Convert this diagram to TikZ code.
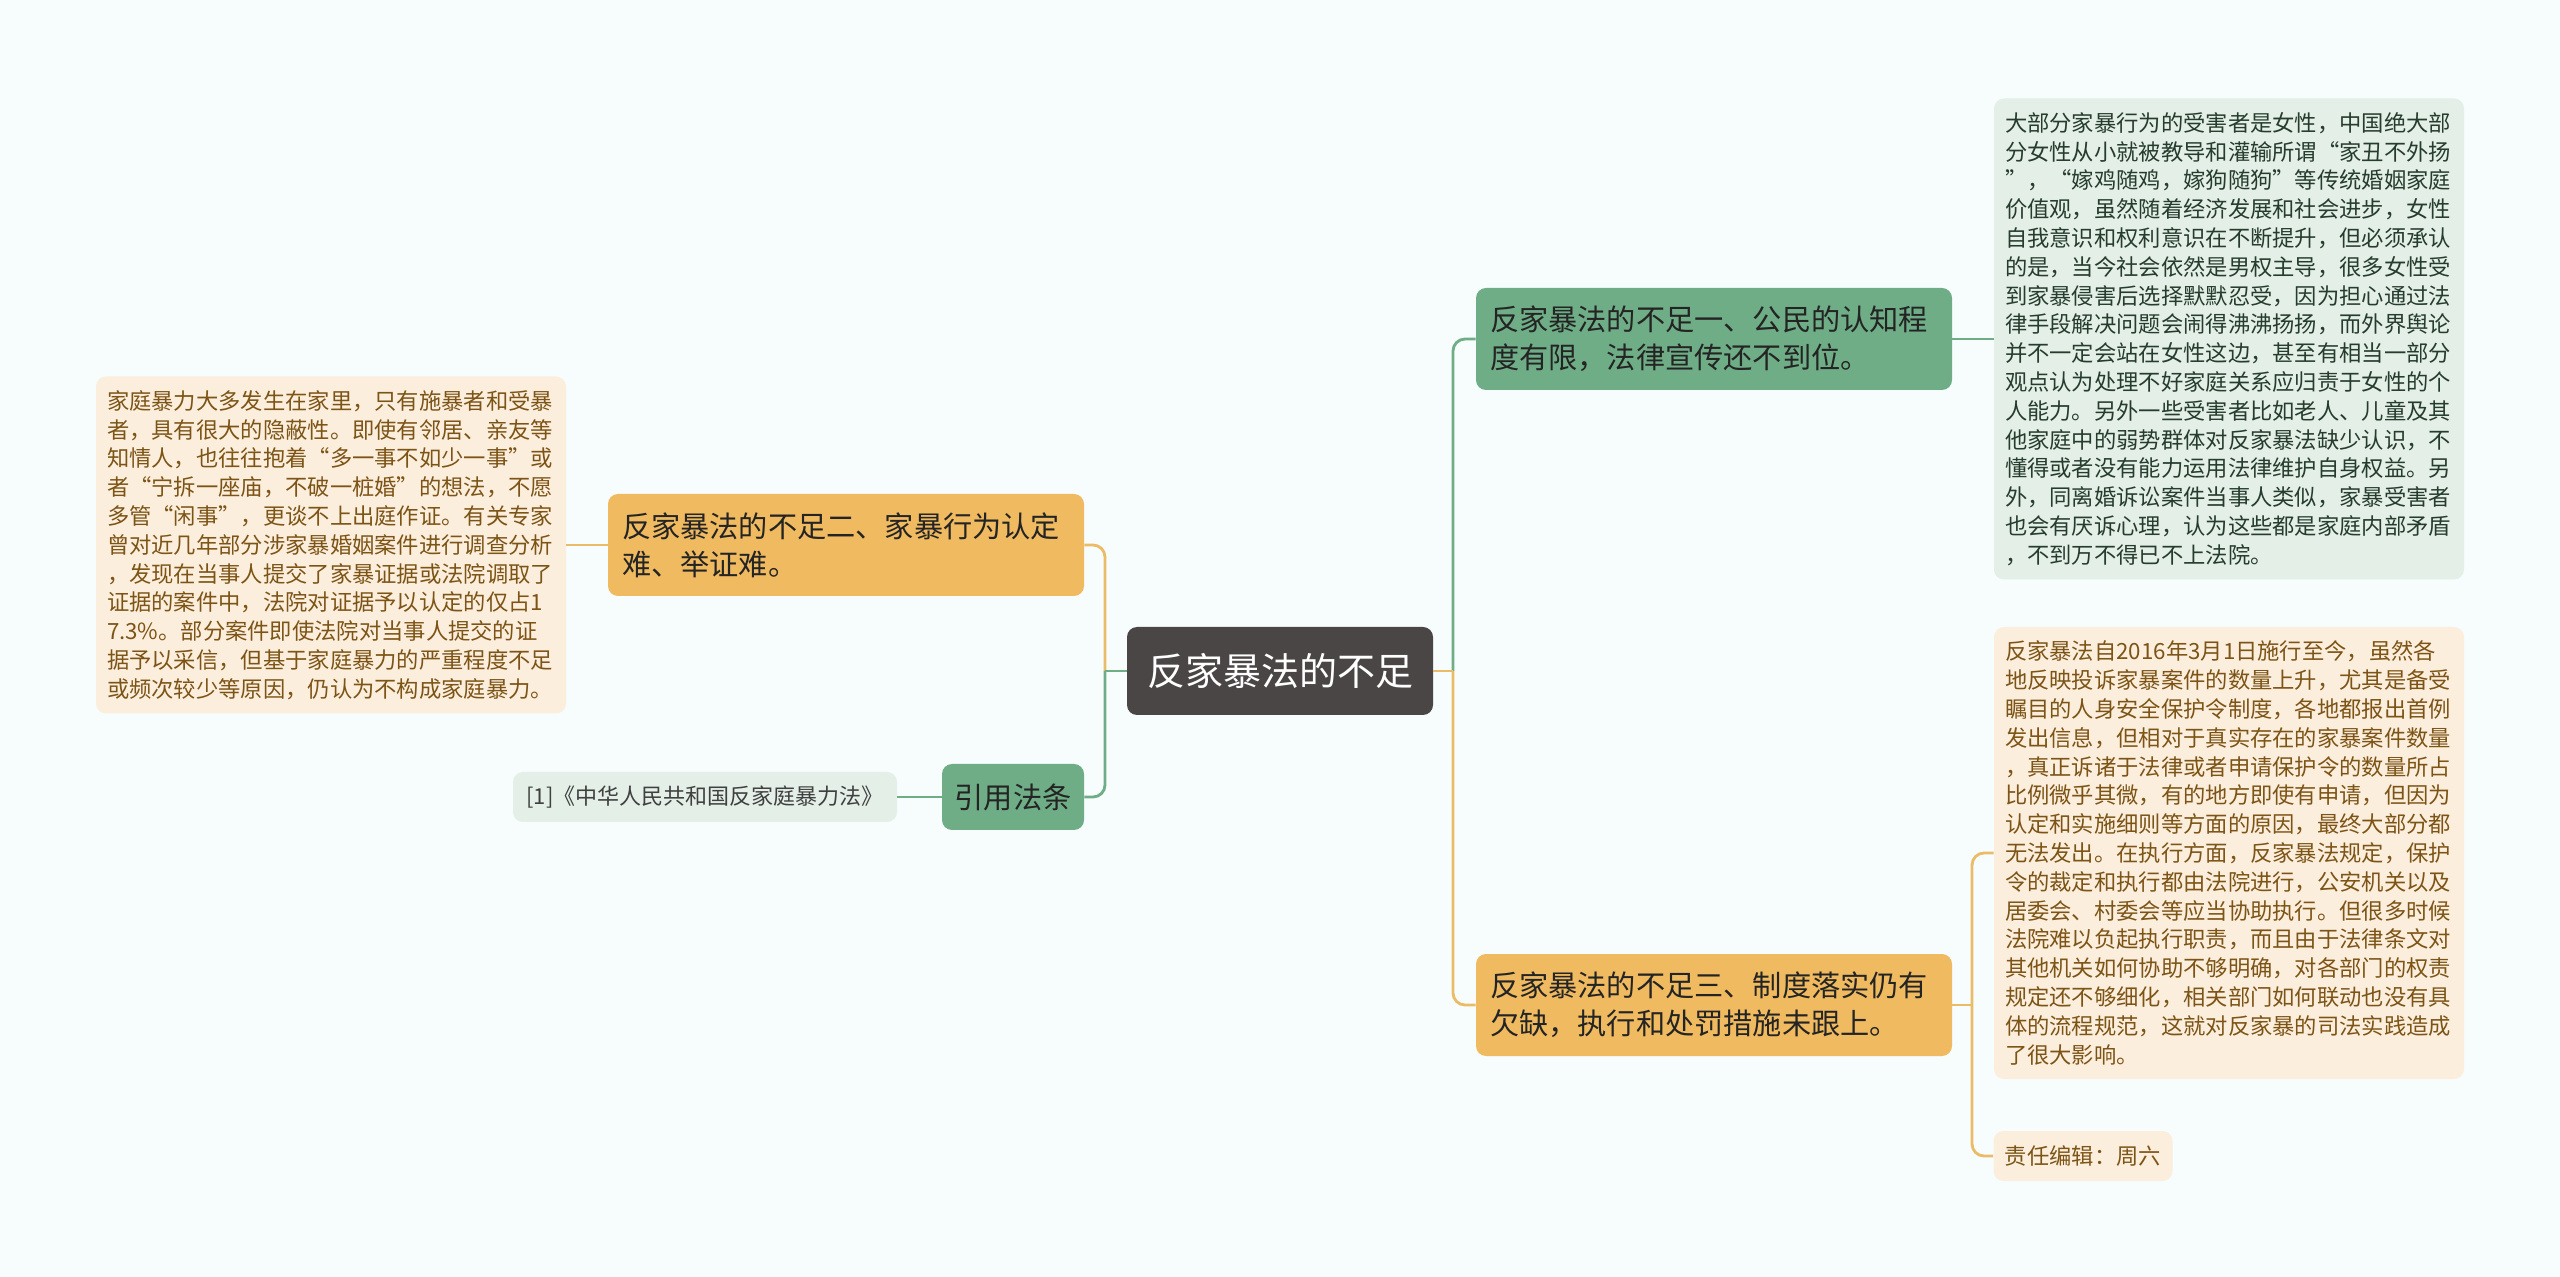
\documentclass[tikz,border=0pt]{standalone}
\usepackage{fontspec}
\newfontfamily\cjk{Noto Sans CJK SC}
\definecolor{bgcol}{RGB}{247,252,253}
\definecolor{rootfill}{RGB}{75,70,70}
\definecolor{greenfill}{RGB}{110,173,134}
\definecolor{orangefill}{RGB}{239,186,96}
\definecolor{greenline}{RGB}{110,173,134}
\definecolor{orangeline}{RGB}{235,188,104}
\definecolor{greenleaf}{RGB}{227,239,231}
\definecolor{orangeleaf}{RGB}{252,238,221}
\definecolor{greentext}{RGB}{38,60,45}
\definecolor{orangetext}{RGB}{124,84,22}
\definecolor{topictext}{RGB}{36,36,36}
\begin{document}
\begin{tikzpicture}[x=0.5pt,y=-0.5pt]
  \tikzstyle{every node}=[font=\cjk,rounded corners=5pt,inner sep=0pt]
  \tikzstyle{rootbox}=[fill=rootfill,text=white,minimum width=153pt,minimum height=44pt,
  font=\cjk\fontsize{19pt}{23pt}\selectfont]
  \tikzstyle{topic}=[text width=224pt,align=left,inner xsep=7pt,minimum height=51pt,
  text=topictext,font=\cjk\fontsize{14.6pt}{19pt}\selectfont]
  \tikzstyle{gtopic}=[topic,fill=greenfill]
  \tikzstyle{otopic}=[topic,fill=orangefill]
  \tikzstyle{leaf}=[text width=224pt,align=left,inner xsep=5.5pt,
  font=\cjk\fontsize{11.15pt}{14.4pt}\selectfont]
  \tikzstyle{gleaf}=[leaf,fill=greenleaf,text=greentext]
  \tikzstyle{oleaf}=[leaf,fill=orangeleaf,text=orangetext]
  \tikzstyle{gline}=[draw=greenline,line width=1.4pt]
  \tikzstyle{oline}=[draw=orangeline,line width=1.4pt]

  \fill[bgcol] (0,0) rectangle (2560,1277);
  \useasboundingbox (0,0) rectangle (2560,1277);

  \node[rootbox] (root) at (1280,671) {反家暴法的不足};

  \node[otopic] (b2) at (846,545) {反家暴法的不足二、家暴行为认定\\难、举证难。};
  \node[fill=greenfill,text=topictext,minimum width=71pt,minimum height=33pt,
  font=\cjk\fontsize{14.6pt}{19pt}\selectfont] (cite) at (1013,797) {引用法条};
  \node[fill=greenleaf,text=black!75,minimum width=192pt,minimum height=25pt,
  font=\cjk\fontsize{11pt}{14pt}\selectfont] (ref) at (705,797) {[1]《中华人民共和国反家庭暴力法》};
  \node[oleaf,minimum height=168.5pt] (fact2) at (331,545) {家庭暴力大多发生在家里，只有施暴者和受暴\\
  者，具有很大的隐蔽性。即使有邻居、亲友等\\
  知情人，也往往抱着“多一事不如少一事”或\\
  者“宁拆一座庙，不破一桩婚”的想法，不愿\\
  多管“闲事”，更谈不上出庭作证。有关专家\\
  曾对近几年部分涉家暴婚姻案件进行调查分析\\
  ，发现在当事人提交了家暴证据或法院调取了\\
  证据的案件中，法院对证据予以认定的仅占1\\
  7.3\%。部分案件即使法院对当事人提交的证\\
  据予以采信，但基于家庭暴力的严重程度不足\\
  或频次较少等原因，仍认为不构成家庭暴力。};

  \node[gtopic] (b1) at (1714,339) {反家暴法的不足一、公民的认知程\\度有限，法律宣传还不到位。};
  \node[otopic] (b3) at (1714,1005) {反家暴法的不足三、制度落实仍有\\欠缺，执行和处罚措施未跟上。};
  \node[gleaf,minimum height=240.5pt] (fact1) at (2229,339) {大部分家暴行为的受害者是女性，中国绝大部\\
  分女性从小就被教导和灌输所谓“家丑不外扬\\
  ”，“嫁鸡随鸡，嫁狗随狗”等传统婚姻家庭\\
  价值观，虽然随着经济发展和社会进步，女性\\
  自我意识和权利意识在不断提升，但必须承认\\
  的是，当今社会依然是男权主导，很多女性受\\
  到家暴侵害后选择默默忍受，因为担心通过法\\
  律手段解决问题会闹得沸沸扬扬，而外界舆论\\
  并不一定会站在女性这边，甚至有相当一部分\\
  观点认为处理不好家庭关系应归责于女性的个\\
  人能力。另外一些受害者比如老人、儿童及其\\
  他家庭中的弱势群体对反家暴法缺少认识，不\\
  懂得或者没有能力运用法律维护自身权益。另\\
  外，同离婚诉讼案件当事人类似，家暴受害者\\
  也会有厌诉心理，认为这些都是家庭内部矛盾\\
  ，不到万不得已不上法院。};
  \node[oleaf,minimum height=226pt] (fact3) at (2229,853) {反家暴法自2016年3月1日施行至今，虽然各\\
  地反映投诉家暴案件的数量上升，尤其是备受\\
  瞩目的人身安全保护令制度，各地都报出首例\\
  发出信息，但相对于真实存在的家暴案件数量\\
  ，真正诉诸于法律或者申请保护令的数量所占\\
  比例微乎其微，有的地方即使有申请，但因为\\
  认定和实施细则等方面的原因，最终大部分都\\
  无法发出。在执行方面，反家暴法规定，保护\\
  令的裁定和执行都由法院进行，公安机关以及\\
  居委会、村委会等应当协助执行。但很多时候\\
  法院难以负起执行职责，而且由于法律条文对\\
  其他机关如何协助不够明确，对各部门的权责\\
  规定还不够细化，相关部门如何联动也没有具\\
  体的流程规范，这就对反家暴的司法实践造成\\
  了很大影响。};
  \node[fill=orangeleaf,text=orangetext,minimum width=89.5pt,minimum height=25pt,
  font=\cjk\fontsize{11.15pt}{14.4pt}\selectfont] (editor) at (2083,1156) {责任编辑：周六};

  \coordinate (lt) at (1105,671);
  \coordinate (rt) at (1453,671);
  \coordinate (st) at (1972,1005);

  \draw[oline,rounded corners=6pt] (lt) |- (b2.east);
  \draw[gline,rounded corners=6pt] (lt) |- (cite.east);
  \draw[gline] (root.west) -- (lt);
  \draw[gline] (cite.west) -- (ref.east);
  \draw[oline] (b2.west) -- (fact2.east);

  \draw[gline,rounded corners=6pt] (rt) |- (b1.west);
  \draw[oline,rounded corners=6pt] (rt) |- (b3.west);
  \draw[oline] (root.east) -- (rt);
  \draw[gline] (b1.east) -- (fact1.west);
  \draw[oline] (b3.east) -- (st);
  \draw[oline,rounded corners=6pt] (st) |- (fact3.west);
  \draw[oline,rounded corners=6pt] (st) |- (editor.west);
\end{tikzpicture}
\end{document}
